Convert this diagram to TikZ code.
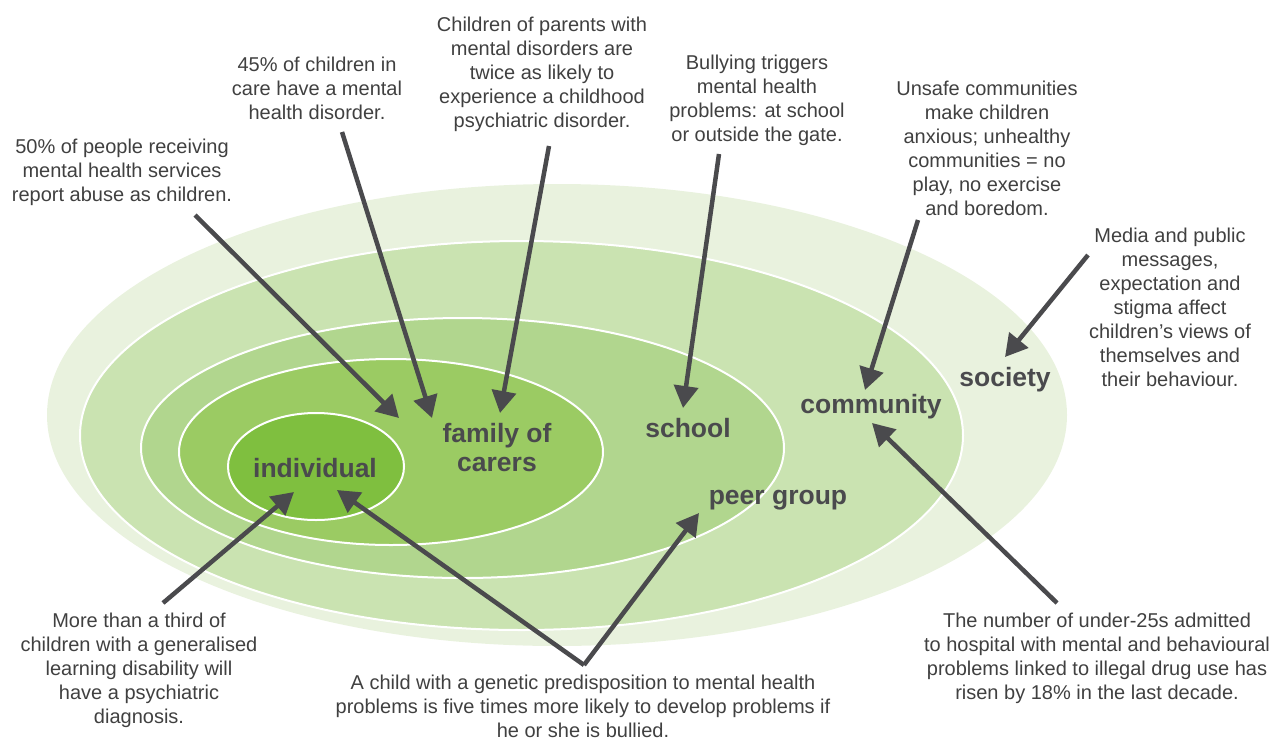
\documentclass[tikz,border=0pt]{standalone}
\usepackage{fontspec}
\setmainfont{Liberation Sans}
\usetikzlibrary{arrows.meta}
\definecolor{ringA}{HTML}{E9F2DE}
\definecolor{ringB}{HTML}{CAE3B1}
\definecolor{ringC}{HTML}{B1D68E}
\definecolor{ringD}{HTML}{9BCB63}
\definecolor{ringE}{HTML}{7FBF3F}
\definecolor{ink}{HTML}{4A4A4D}
\definecolor{txt}{HTML}{404040}
\begin{document}
\begin{tikzpicture}[x=1pt,y=-1pt,
  note/.style={align=center, font=\fontsize{20}{24}\selectfont, text=txt, inner sep=0pt},
  lbl/.style={align=center, font=\fontsize{26.5}{29}\selectfont\bfseries, text=ink, inner sep=0pt},
  ring/.style={draw=white, line width=2pt},
  pointer/.style={draw=ink, line width=4.5pt, -{Triangle[length=22pt,width=24pt]}}
]
\useasboundingbox (0,0) rectangle (1278,740);
% rings
\fill[ringA] (557,415) ellipse [x radius=510pt, y radius=231pt];
\path[ring, fill=ringB] (521.5,435.5) ellipse [x radius=441.5pt, y radius=194.5pt];
\path[ring, fill=ringC] (462.5,448) ellipse [x radius=321.5pt, y radius=130pt];
\path[ring, fill=ringD] (391,452) ellipse [x radius=212pt, y radius=93pt];
\path[ring, fill=ringE] (316,466.5) ellipse [x radius=88pt, y radius=53.5pt];
% ring labels
\node[lbl] (individual) at (315,468) {individual};
\node[lbl] (family) at (497,448) {family of\\carers};
\node[lbl] (school) at (688,428) {school};
\node[lbl] (community) at (871,407) {community};
\node[lbl] (society) at (1005,380) {society};
\node[lbl] (peer) at (778,500) {peer group};
% notes
\node[note] (n1) at (122,172) {50\% of people receiving\\mental health services\\report abuse as children.};
\node[note] (n2) at (317,88) {45\% of children in\\care have a mental\\health disorder.};
\node[note] (n3) at (542,74) {Children of parents with\\mental disorders are\\twice as likely to\\experience a childhood\\psychiatric disorder.};
\node[note] (n4) at (757,100) {Bullying triggers\\mental health\\problems: at school\\or outside the gate.};
\node[note] (n5) at (987,148) {Unsafe communities\\make children\\anxious; unhealthy\\communities = no\\play, no exercise\\and boredom.};
\node[note] (n6) at (1170,307) {Media and public\\messages,\\expectation and\\stigma affect\\children’s views of\\themselves and\\their behaviour.};
\node[note] (n7) at (1097,658) {The number of under-25s admitted\\to hospital with mental and behavioural\\problems linked to illegal drug use has\\risen by 18\% in the last decade.};
\node[note] (n8) at (139,670) {More than a third of\\children with a generalised\\learning disability will\\have a psychiatric\\diagnosis.};
\node[note] (n9) at (583,706) {A child with a genetic predisposition to mental health\\problems is five times more likely to develop problems if\\he or she is bullied.};
% connector ends
\coordinate (t1) at (195,215);  \coordinate (h1) at (399,418);
\coordinate (t2) at (342,132);  \coordinate (h2) at (432,418);
\coordinate (t3) at (549,146);  \coordinate (h3) at (500,413);
\coordinate (t4) at (719,154);  \coordinate (h4) at (683,408);
\coordinate (t5) at (918,220);  \coordinate (h5) at (865,390);
\coordinate (t6) at (1088,255); \coordinate (h6) at (1005,357);
\coordinate (t7) at (1057,603); \coordinate (h7) at (872,423);
\coordinate (t8) at (163,603);  \coordinate (h8) at (294,492);
\coordinate (t9) at (584,665);  \coordinate (h9a) at (337,490); \coordinate (h9b) at (699,513);
% connectors
\draw[pointer] (t1) -- (h1);
\draw[pointer] (t2) -- (h2);
\draw[pointer] (t3) -- (h3);
\draw[pointer] (t4) -- (h4);
\draw[pointer] (t5) -- (h5);
\draw[pointer] (t6) -- (h6);
\draw[pointer] (t7) -- (h7);
\draw[pointer] (t8) -- (h8);
\draw[pointer] (t9) -- (h9a);
\draw[pointer] (t9) -- (h9b);
\end{tikzpicture}
\end{document}
